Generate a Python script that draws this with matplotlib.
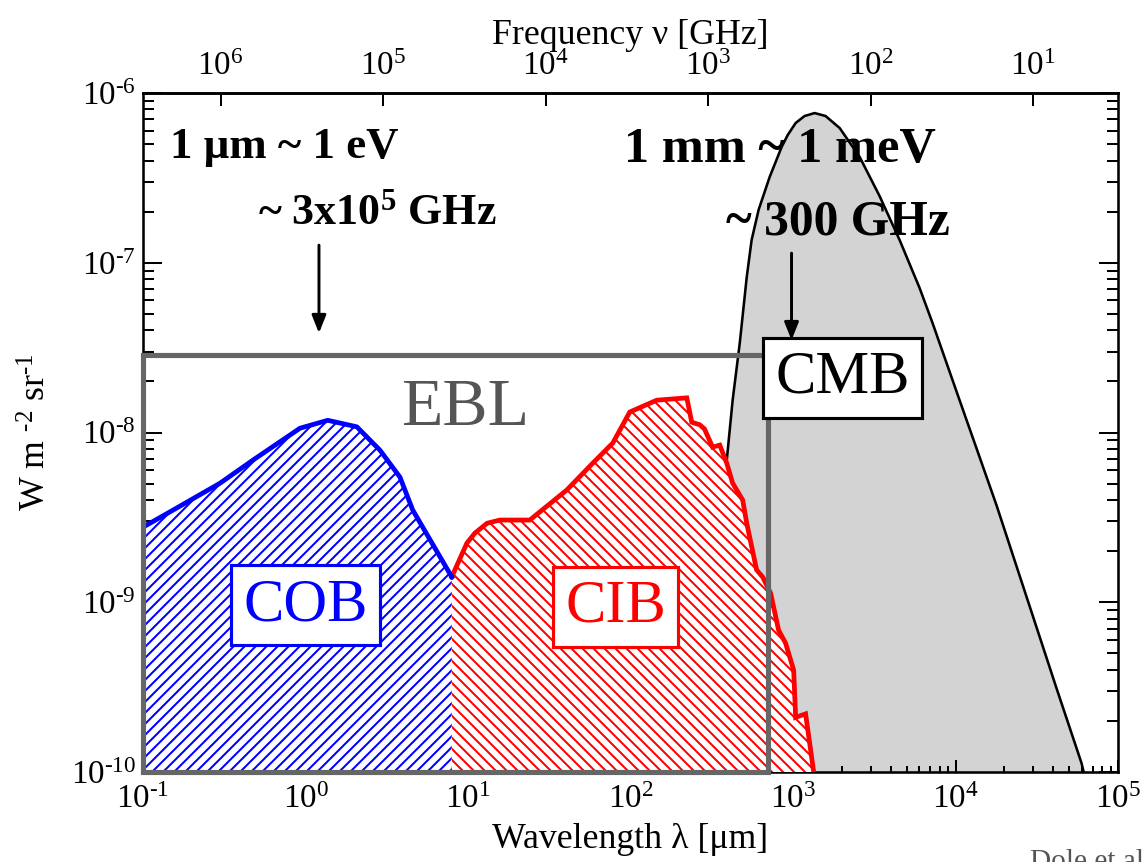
import numpy as np
import matplotlib
matplotlib.use("Agg")
import matplotlib.pyplot as plt
from matplotlib.patches import Rectangle
from matplotlib.ticker import NullLocator, FuncFormatter

plt.rcParams["font.family"] = ["Liberation Serif", "DejaVu Serif"]
plt.rcParams["mathtext.fontset"] = "custom"
plt.rcParams["mathtext.rm"] = "Liberation Serif"
plt.rcParams["mathtext.it"] = "Liberation Serif:italic"
plt.rcParams["mathtext.bf"] = "Liberation Serif:bold"
plt.rcParams["hatch.linewidth"] = 1.1

HY = "\u2010"  # short hyphen for exponents

# Cosmic optical background (wavelength in um, nuI_nu in W m^-2 sr^-1)
cob_wav = [0.1, 0.153, 0.298, 0.475, 0.925, 1.37, 2.07, 2.87, 3.81, 4.57, 7.94]
cob_flux = [2.77e-9, 3.49e-9, 5.03e-9, 6.88e-9, 1.06e-8, 1.18e-8, 1.08e-8,
            7.87e-9, 5.46e-9, 3.49e-9, 1.41e-9]

# Cosmic infrared background
cib_wav = [7.94, 9.84, 11.0, 13.1, 15.7, 24.0, 40.5, 58.6, 77.8, 98.9, 145,
           222, 238, 267, 285, 320, 354, 391, 425, 490, 519, 597, 650, 728,
           815, 900, 1009, 1038, 1195, 1340, 1420]
cib_flux = [1.41e-9, 2.23e-9, 2.55e-9, 2.92e-9, 3.05e-9, 3.05e-9, 4.58e-9,
            6.6e-9, 8.67e-9, 1.32e-8, 1.55e-8, 1.60e-8, 1.15e-8, 1.11e-8,
            1.05e-8, 8.2e-9, 8.43e-9, 6.6e-9, 5.03e-9, 4.0e-9, 2.92e-9,
            1.55e-9, 1.41e-9, 1.13e-9, 6.85e-10, 5.74e-10, 3.98e-10, 2.1e-10,
            2.2e-10, 1.0e-10, 6e-11]

# Cosmic microwave background
cmb_wav = [300, 391, 425, 470, 519, 556, 614, 718, 851, 927, 1038, 1178,
           1358, 1585, 1936, 2570, 3410, 4530, 6010, 7223, 10590, 17870,
           29780, 41800, 59570, 65000]
cmb_flux = [1.0e-10, 6.87e-9, 1.55e-8, 3.36e-8, 8.24e-8, 1.36e-7, 2.05e-7,
            3.2e-7, 4.81e-7, 5.65e-7, 6.66e-7, 7.32e-7, 7.62e-7, 7.32e-7,
            6.22e-7, 4.2e-7, 2.47e-7, 1.36e-7, 7.1e-8, 4.41e-8, 1.55e-8,
            3.73e-9, 8.4e-10, 3.12e-10, 1.13e-10, 8e-11]

# EBL window: wavelength range and upper flux edge
ebl_wav = [0.1, 698]
ebl_flux = [1e-10, 2.86e-8]

C_UM_GHZ = 2.998e5  # c in um*GHz
FLOOR = 1e-12


def wav_to_freq(x):
    x = np.asarray(x, dtype=float)
    with np.errstate(divide="ignore"):
        return C_UM_GHZ / x


def pow10(val, pos):
    if val <= 0:
        return ""
    e = int(round(np.log10(val)))
    sign = HY if e < 0 else ""
    return f"$10^{{{sign}{abs(e)}}}$"


fig = plt.figure(figsize=(1146 / 132, 862 / 132), dpi=132)
ax = fig.add_axes([0.1248, 0.1044, 0.8508, 0.7877])
ax.set_xscale("log")
ax.set_yscale("log")
ax.set_xlim(0.1, 1e5)
ax.set_ylim(1e-10, 1e-6)

# CMB blackbody
ax.fill_between(cmb_wav, cmb_flux, FLOOR, color="#d3d3d3", lw=0, zorder=1)
ax.plot(cmb_wav, cmb_flux, color="black", lw=1.4, zorder=2)

# hatched EBL components
ax.fill(cib_wav + [cib_wav[-1], cib_wav[0]], cib_flux + [FLOOR, FLOOR],
        facecolor="white", edgecolor="red", hatch="\\\\\\\\", lw=0, zorder=3)
ax.fill(cob_wav + [cob_wav[-1], cob_wav[0]], cob_flux + [FLOOR, FLOOR],
        facecolor="white", edgecolor="blue", hatch="////", lw=0, zorder=3)
ax.plot(cib_wav, cib_flux, color="red", lw=2.6, zorder=4,
        solid_joinstyle="miter")
ax.plot(cob_wav, cob_flux, color="blue", lw=2.6, zorder=4)

ax.add_patch(Rectangle((ebl_wav[0], ebl_flux[0]), ebl_wav[1] - ebl_wav[0],
                       ebl_flux[1] - ebl_flux[0], fill=False,
                       edgecolor="#666666", lw=2.8, zorder=5, clip_on=False))

# component labels
ax.text(9.55, 1.39e-8, "EBL", fontsize=37, color="#555555",
        ha="center", va="center", zorder=6)
ax.text(1.0, 9.6e-10, "COB", fontsize=33, color="blue", ha="center",
        va="center", zorder=6,
        bbox=dict(boxstyle="square,pad=0.2", fc="white", ec="blue", lw=1.7))
ax.text(81, 9.35e-10, "CIB", fontsize=33, color="red", ha="center",
        va="center", zorder=6,
        bbox=dict(boxstyle="square,pad=0.2", fc="white", ec="red", lw=1.7))
ax.text(2018, 2.1e-8, "CMB", fontsize=33, color="black", ha="center",
        va="center", zorder=6,
        bbox=dict(boxstyle="square,pad=0.2", fc="white", ec="black", lw=1.7))

# unit conversions
ax.text(0.0277, 0.9205, "1 μm ~ 1 eV", transform=ax.transAxes,
        fontsize=24.5, fontweight="bold", ha="left", va="center", zorder=7)
ax.text(0.240, 0.823, r"~ 3x10$^{\mathbf{5}}$ GHz", transform=ax.transAxes,
        fontsize=24, fontweight="bold", ha="center", va="center", zorder=7)
ax.text(0.653, 0.916, "1 mm ~ 1 meV", transform=ax.transAxes,
        fontsize=27.5, fontweight="bold", ha="center", va="center", zorder=7)
ax.text(0.713, 0.810, "~ 300 GHz", transform=ax.transAxes,
        fontsize=27, fontweight="bold", ha="center", va="center", zorder=7)

arrow = dict(arrowstyle="-|>,head_length=0.45,head_width=0.18", lw=1.6,
             color="black", mutation_scale=18, shrinkA=0, shrinkB=0)
ax.annotate("", xy=(1.21, 3.85e-8), xytext=(1.21, 1.27e-7),
            arrowprops=arrow, zorder=7)
ax.annotate("", xy=(979, 3.5e-8), xytext=(979, 1.14e-7),
            arrowprops=arrow, zorder=7)

# axes styling
for sp in ax.spines.values():
    sp.set_linewidth(1.4)
ax.xaxis.set_major_formatter(FuncFormatter(pow10))
ax.yaxis.set_major_formatter(FuncFormatter(pow10))
ax.tick_params(which="both", direction="in", top=False, right=True,
               labelsize=18, width=1.1)
ax.tick_params(axis="x", which="major", length=6.5, pad=7)
ax.tick_params(axis="x", which="minor", length=3.3)
ax.tick_params(axis="y", which="major", length=10.5, pad=4)
ax.tick_params(axis="y", which="minor", length=6)
ax.set_xlabel("Wavelength λ [μm]", fontsize=19.5, labelpad=4)
ax.set_ylabel(f"W m $^{{{HY}2}}$ sr$^{{{HY}1}}$", fontsize=19.5, labelpad=9)

secax = ax.secondary_xaxis("top", functions=(wav_to_freq, wav_to_freq))
secax.xaxis.set_minor_locator(NullLocator())
secax.xaxis.set_major_formatter(FuncFormatter(pow10))
secax.tick_params(direction="in", length=7, width=1.1, labelsize=18, pad=6)
secax.spines["top"].set_linewidth(1.4)
secax.set_xlabel("Frequency ν [GHz]", fontsize=19.5)
secax.xaxis.set_label_coords(0.5, 1.072, transform=ax.transAxes)

fig.text(1030 / 1146, 1 - 849 / 862, "Dole et al.", fontsize=16,
         color="#555555", ha="left", va="top")

fig.savefig("out.png", dpi=132)
